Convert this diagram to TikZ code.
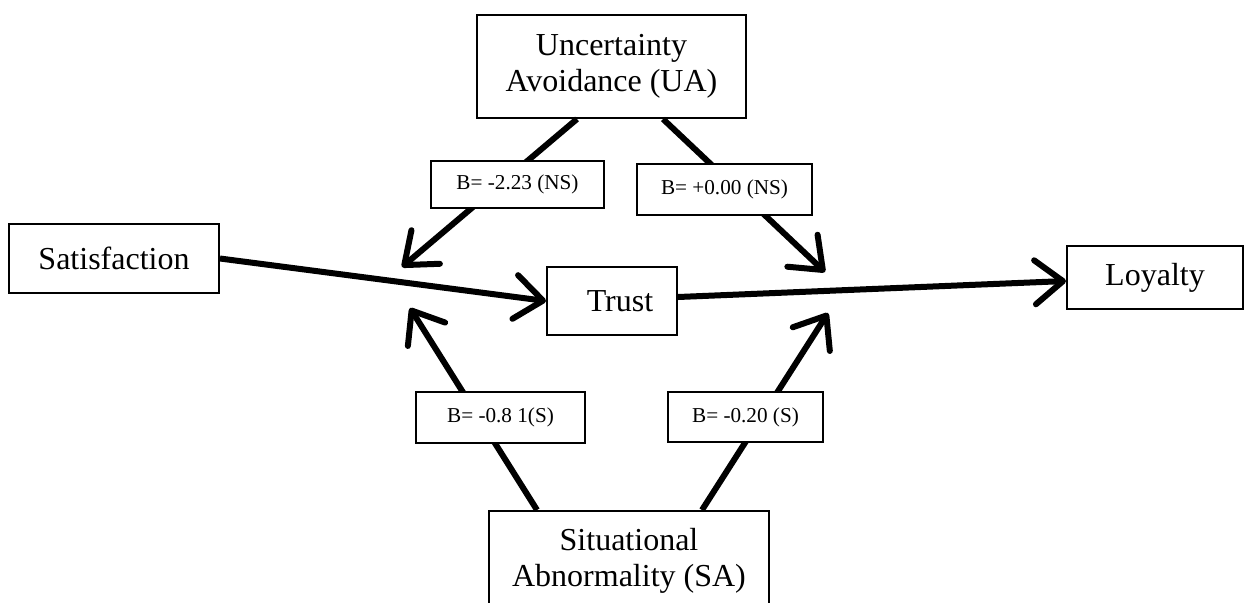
\documentclass[tikz,border=0pt]{standalone}
\usepackage{fontspec}
\setmainfont{Liberation Serif}
\usepackage{tikz}
\usetikzlibrary{arrows.meta,positioning}
\tikzset{%
        x=0.5pt,
        y=-0.5pt,
        link/.style={-{Straight Barb[length=14pt,width=22pt,round]}, line width=3pt}
}
\tikzstyle{box}=[
    draw = black,
    line width = 1pt,
    fill = white,
    align = center,
    inner sep = 0pt,
    font = \fontsize{16}{17.75}\selectfont
]
\tikzstyle{coef}=[
    draw = black,
    line width = 0.75pt,
    fill = white,
    inner sep = 0pt,
    font = \fontsize{10.6}{12}\selectfont
]
\begin{document}
\begin{tikzpicture}
        \useasboundingbox (0,0) rectangle (1244,602);
        \node[box, minimum width=134.5pt, minimum height=51.5pt] (ua) at (611.5,66.5) {Uncertainty\\Avoidance (UA)};
        \node[box, minimum width=105pt, minimum height=34.5pt] (sat) at (114,258.5) {Satisfaction};
        \node[box, minimum width=65pt, minimum height=34pt] (trust) at (612,301) {\hspace{8pt}Trust};
        \node[box, minimum width=88pt, minimum height=31.5pt] (loyal) at (1155,277.5) {Loyalty};
        \node[box, minimum width=140pt, minimum height=50pt] (sa) at (629,561) {Situational\\Abnormality (SA)};
        \coordinate (c1) at (402,267);
        \coordinate (c2) at (825,272);
        \coordinate (c3) at (410,308);
        \coordinate (c4) at (828,313);
        \draw[link] (sat.east) -- (trust.west);
        \draw[link] ([yshift=2pt]trust.east) -- ([yshift=-1.75pt]loyal.west);
        \draw[link] ([xshift=-17.25pt]ua.south) -- (c1);
        \draw[link] ([xshift=25.75pt]ua.south) -- (c2);
        \draw[link] ([xshift=-46pt]sa.north) -- (c3);
        \draw[link] ([xshift=36.5pt]sa.north) -- (c4);
        \node[coef, minimum width=86.5pt, minimum height=23.5pt] (b1) at (517.5,184.5) {B= -2.23 (NS)};
        \node[coef, minimum width=87.5pt, minimum height=25.5pt] (b2) at (724.5,189.5) {B= +0.00 (NS)};
        \node[coef, minimum width=84.5pt, minimum height=25.5pt] (b3) at (500.5,417.5) {B= -0.8 1(S)};
        \node[coef, minimum width=77.5pt, minimum height=25pt] (b4) at (745.5,417) {B= -0.20 (S)};
\end{tikzpicture}
\end{document}
